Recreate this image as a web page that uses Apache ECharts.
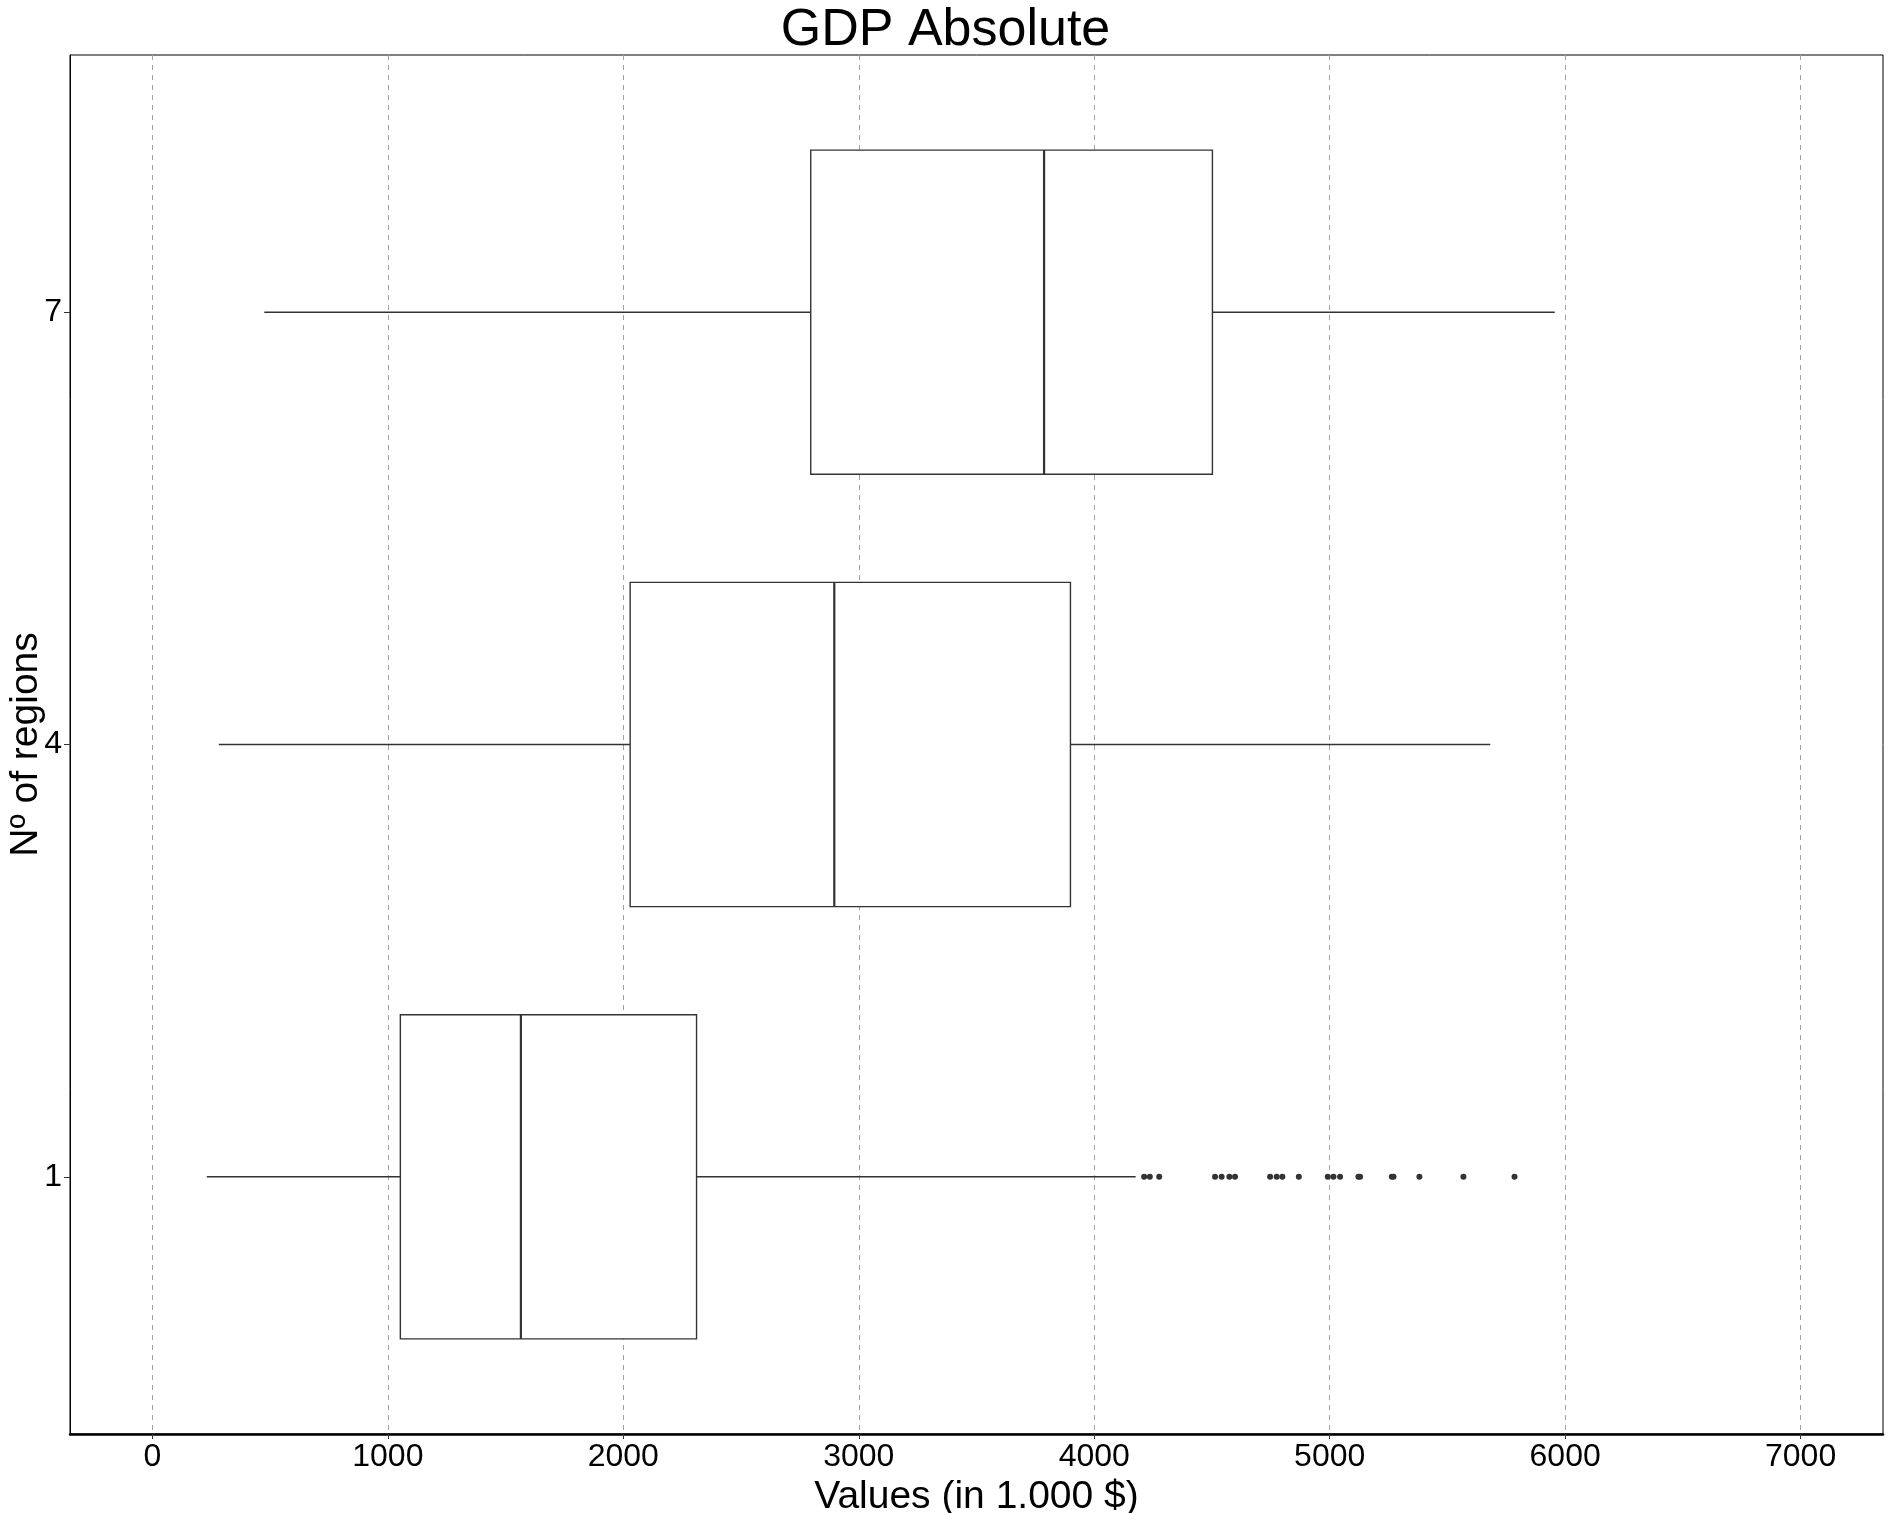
<!DOCTYPE html>
<html>
<head>
<meta charset="utf-8">
<title>GDP Absolute</title>
<script src="https://cdn.jsdelivr.net/npm/echarts@6/dist/echarts.min.js"></script>
<style>
html, body { margin: 0; padding: 0; background: #fff; }
#main { width: 1891px; height: 1513px; }
</style>
</head>
<body>
<div id="main"></div>
<script>
// box statistics per number of regions (values in 1.000 $)
const regions = [1, 4, 7];
const whiskerLow = [231, 282, 475];
const q1 = [1053, 2029, 2796];
const median = [1565, 2896, 3787];
const q3 = [2311, 3899, 4502];
const whiskerHigh = [4176, 5682, 5956];
// outliers (only the 1-region group has them)
const outliers1 = [4212, 4236, 4276, 4513, 4541, 4574, 4598, 4747, 4775, 4799, 4869,
                   4992, 5016, 5044, 5122, 5129, 5264, 5271, 5381, 5568, 5785];
const xTicks = [0, 1000, 2000, 3000, 4000, 5000, 6000, 7000];
const yTicks = [1, 4, 7];

const FONT = '"Liberation Sans", Arial, sans-serif';
const LINE = '#333333';
const BOX_H = 2.25; // box height in y units

const boxData = regions.map((r, i) =>
  [r, whiskerLow[i], q1[i], median[i], q3[i], whiskerHigh[i]]);
const outlierData = outliers1.map(v => [v, 1]);

const chart = echarts.init(document.getElementById('main'));

chart.setOption({
  animation: false,
  backgroundColor: '#fff',
  textStyle: { fontFamily: FONT },
  title: {
    text: 'GDP Absolute',
    left: 'center',
    top: 0,
    textStyle: { fontFamily: FONT, fontSize: 52, fontWeight: 'normal', color: '#000' }
  },
  grid: {
    left: 70, top: 55, width: 1813, height: 1379,
    outerBoundsMode: 'none',
    containLabel: false,
    show: true, borderColor: '#000', borderWidth: 1, backgroundColor: '#fff'
  },
  xAxis: {
    type: 'value',
    min: -350,
    max: 7350,
    name: 'Values (in 1.000 $)',
    nameLocation: 'middle',
    nameGap: 33,
    nameTextStyle: { fontFamily: FONT, fontSize: 39, color: '#000' },
    axisLine: { show: true, onZero: false, lineStyle: { color: '#000', width: 2.5 } },
    axisTick: { show: true, length: 5, customValues: xTicks, lineStyle: { color: LINE } },
    axisLabel: {
      customValues: xTicks, margin: 7, fontFamily: FONT, fontSize: 32, color: '#000',
      formatter: v => String(v)
    },
    splitLine: { show: true, lineStyle: { color: '#a0a0a0', width: 1, type: [5, 5] } }
  },
  yAxis: {
    type: 'value',
    min: -0.785,
    max: 8.785,
    name: 'Nº of regions',
    nameLocation: 'middle',
    nameGap: 24,
    nameMoveOverlap: false,
    nameTextStyle: { fontFamily: FONT, fontSize: 39, color: '#000' },
    axisLine: { show: true, onZero: false, lineStyle: { color: '#000', width: 1 } },
    axisTick: { show: true, length: 6, customValues: yTicks, lineStyle: { color: LINE } },
    axisLabel: {
      customValues: yTicks, margin: 8, fontFamily: FONT, fontSize: 32, color: '#000',
      formatter: v => String(v)
    },
    splitLine: { show: false }
  },
  series: [
    {
      type: 'custom',
      data: boxData,
      encode: { x: [1, 2, 3, 4, 5], y: 0 },
      z: 3,
      renderItem: function (params, api) {
        const y = api.value(0);
        const lo = api.coord([api.value(1), y]);
        const a = api.coord([api.value(2), y]);
        const m = api.coord([api.value(3), y]);
        const b = api.coord([api.value(4), y]);
        const hi = api.coord([api.value(5), y]);
        const h = api.size([0, BOX_H])[1];
        const lineStyle = { stroke: LINE, lineWidth: 1.4 };
        return {
          type: 'group',
          children: [
            { type: 'line', shape: { x1: lo[0], y1: lo[1], x2: a[0], y2: a[1] }, style: lineStyle },
            { type: 'line', shape: { x1: b[0], y1: b[1], x2: hi[0], y2: hi[1] }, style: lineStyle },
            {
              type: 'rect',
              shape: { x: a[0], y: a[1] - h / 2, width: b[0] - a[0], height: h },
              style: { fill: '#fff', stroke: LINE, lineWidth: 1.4 }
            },
            {
              type: 'line',
              shape: { x1: m[0], y1: m[1] - h / 2, x2: m[0], y2: m[1] + h / 2 },
              style: { stroke: LINE, lineWidth: 2.2 }
            }
          ]
        };
      }
    },
    {
      type: 'scatter',
      data: outlierData,
      symbol: 'circle',
      symbolSize: 6,
      z: 4,
      itemStyle: { color: LINE, opacity: 1 }
    }
  ]
});
</script>
</body>
</html>
